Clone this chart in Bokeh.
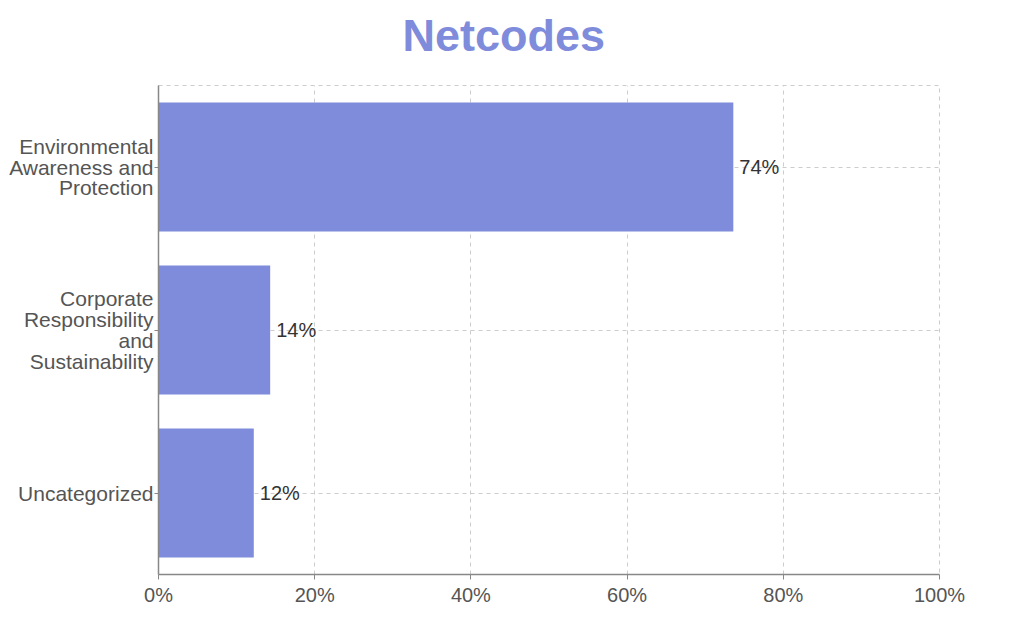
from bokeh.plotting import figure
from bokeh.models import FactorRange, Range1d, ColumnDataSource, FixedTicker, CustomJSTickFormatter, Title
from bokeh.core.properties import value
from bokeh.embed import file_html
from bokeh.resources import INLINE

title_text = "Netcodes"
categories = ["Environmental\nAwareness and\nProtection",
              "Corporate\nResponsibility\nand\nSustainability",
              "Uncategorized"]
values = [73.6, 14.3, 12.2]
x_ticks = [0, 20, 40, 60, 80, 100]

FONT = "Liberation Sans"
BAR = "#7f8bdb"

src = ColumnDataSource(dict(
    cat=categories,
    val=values,
    lab=[f"{round(v)}%" for v in values],
))

p = figure(frame_width=781, frame_height=489, output_backend="svg", toolbar_location=None,
           y_range=FactorRange(factors=list(reversed(categories)), range_padding=0),
           x_range=Range1d(0, 100), title=None,
           min_border_left=158, min_border_right=60, min_border_top=85, min_border_bottom=46)

# spacer between frame and title (added first -> closest to the frame)
p.add_layout(Title(text=" ", text_font=FONT, text_font_size="10px", standoff=5), "above")
p.add_layout(Title(text=title_text, align="left", offset=244, vertical_align="middle",
                   standoff=12, text_font=FONT, text_font_size="45px",
                   text_font_style="bold", text_color=BAR), "above")

p.hbar(y="cat", right="val", left=0, height=0.79, source=src, color=BAR, line_color=None)
p.text(x="val", y="cat", text="lab", source=src, x_offset=6, text_baseline="middle",
       text_align="left", text_font=value(FONT), text_font_size="20px", text_color="#333333")

p.xaxis.ticker = FixedTicker(ticks=x_ticks)
p.xaxis.formatter = CustomJSTickFormatter(code="return tick + '%';")

for ax in (p.xaxis, p.yaxis):
    ax.axis_line_color = "#888888"
    ax.axis_line_width = 1.5
    ax.major_tick_line_color = "#888888"
    ax.major_tick_out = 5
    ax.major_tick_in = 0
    ax.minor_tick_line_color = None
    ax.major_label_text_font = FONT
    ax.major_label_text_font_size = "20px"
    ax.major_label_text_color = "#555555"
p.yaxis.major_label_text_font_size = "21px"
p.yaxis.major_tick_out = 4
p.yaxis.major_label_standoff = 1
p.yaxis.major_label_text_line_height = 0.9
p.xaxis.major_label_standoff = 4

p.xgrid.ticker = FixedTicker(ticks=x_ticks)
for g in (p.xgrid, p.ygrid):
    g.grid_line_color = "#cccccc"
    g.grid_line_dash = "4 4"
    g.grid_line_width = 1

p.outline_line_color = "#cccccc"
p.outline_line_dash = "4 4"
p.background_fill_color = "white"
p.border_fill_color = "white"

open("out.html", "w").write(file_html(p, INLINE))
